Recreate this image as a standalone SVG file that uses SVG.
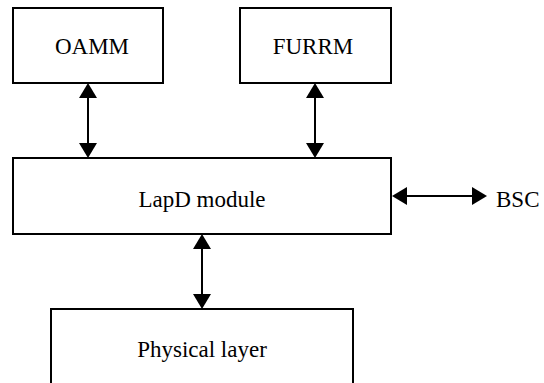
<svg xmlns="http://www.w3.org/2000/svg" width="544" height="383" viewBox="0 0 544 383">
  <style>
    .box { fill: #ffffff; stroke: #000000; stroke-width: 2; }
    .label { font-family: 'Liberation Serif', 'DejaVu Serif', serif; font-size: 23px; fill: #000000; }
    .mid { text-anchor: middle; }
    .link { stroke: #000000; stroke-width: 2; fill: none; marker-start: url(#head); marker-end: url(#head); }
  </style>
  <defs>
    <marker id="head" markerUnits="userSpaceOnUse" markerWidth="16" markerHeight="18" refX="2" refY="9" orient="auto-start-reverse" viewBox="0 0 16 18">
      <path d="M0,0 L15,9 L0,18 z" fill="#000000"/>
    </marker>
  </defs>
  <rect width="544" height="383" fill="#ffffff"/>

  <g id="oamm">
    <rect class="box" x="13" y="8" width="150" height="75"/>
    <text class="label mid" x="92" y="54" font-family="Liberation Serif, DejaVu Serif, serif">OAMM</text>
  </g>

  <g id="furrm">
    <rect class="box" x="240" y="8" width="151" height="75"/>
    <text class="label mid" x="313" y="54" font-family="Liberation Serif, DejaVu Serif, serif">FURRM</text>
  </g>

  <g id="lapd">
    <rect class="box" x="13" y="158" width="378" height="76"/>
    <text class="label mid" x="202" y="207" font-family="Liberation Serif, DejaVu Serif, serif">LapD module</text>
  </g>

  <g id="physical">
    <rect class="box" x="51" y="309" width="302" height="90"/>
    <text class="label mid" x="202" y="357" font-family="Liberation Serif, DejaVu Serif, serif">Physical layer</text>
  </g>

  <g id="bsc">
    <text class="label" x="496" y="207" font-family="Liberation Serif, DejaVu Serif, serif">BSC</text>
  </g>

  <g id="connectors">
    <line class="link" x1="88" y1="96" x2="88" y2="145"/>
    <line class="link" x1="315" y1="96" x2="315" y2="145"/>
    <line class="link" x1="202" y1="247" x2="202" y2="296"/>
    <line class="link" x1="405" y1="196" x2="474" y2="196"/>
  </g>
</svg>
